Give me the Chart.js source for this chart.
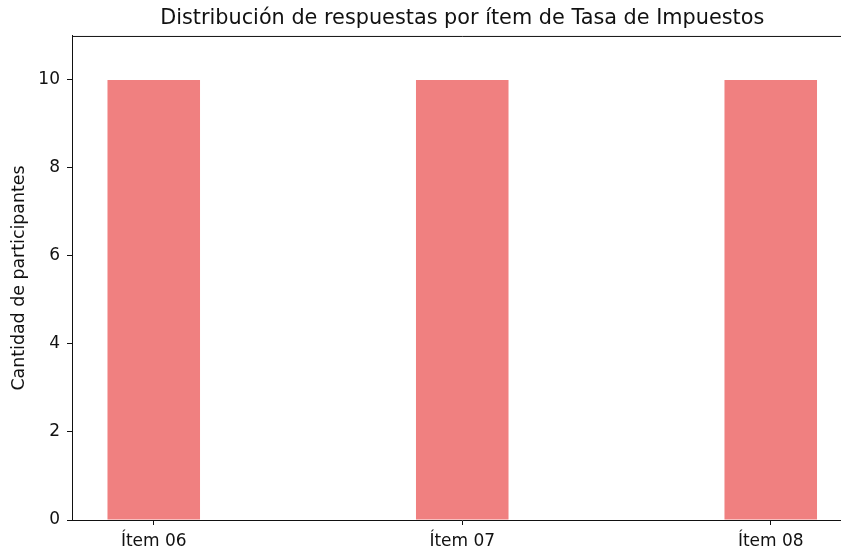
<!DOCTYPE html>
<html>
<head>
<meta charset="utf-8">
<script src="https://cdn.jsdelivr.net/npm/chart.js@4/dist/chart.umd.min.js"></script>
<style>
  html, body { margin: 0; padding: 0; background: #fff; overflow: hidden; }
  #wrap { width: 900px; height: 552px; }
</style>
</head>
<body>
<div id="wrap"><canvas id="chart" width="900" height="552"></canvas></div>
<script>
const categories = ['Ítem 06', 'Ítem 07', 'Ítem 08'];
const counts = [10, 10, 10];
const yTicks = [0, 2, 4, 6, 8, 10];

const titleText = 'Distribución de respuestas por ítem de Tasa de Impuestos';
const yLabel = 'Cantidad de participantes';
const barColor = '#F08080';
const axisColor = '#111';
const textColor = '#111';
const fontFamily = '"DejaVu Sans", sans-serif';

// marco superior (las espinas de matplotlib)
const frame = {
    id: 'frame',
    afterDraw(chart) {
        const { ctx, chartArea } = chart;
        ctx.save();
        ctx.strokeStyle = axisColor;
        ctx.lineWidth = 1;
        ctx.beginPath();
        ctx.moveTo(chartArea.left, chartArea.top + 0.5);
        ctx.lineTo(chartArea.right, chartArea.top + 0.5);
        ctx.stroke();
        ctx.restore();
    }
};

const ctx = document.getElementById('chart').getContext('2d');
new Chart(ctx, {
    type: 'bar',
    data: {
        datasets: [{
            data: counts.map((v, i) => ({ x: i, y: v })),
            backgroundColor: barColor,
            borderWidth: 0,
            barPercentage: 0.3,
            categoryPercentage: 1
        }]
    },
    options: {
        responsive: false,
        animation: false,
        layout: { padding: { left: 0, right: 47.5, top: 0, bottom: 0 } },
        plugins: {
            legend: { display: false },
            tooltip: { enabled: false },
            title: {
                display: true,
                fullSize: false,
                text: titleText,
                color: textColor,
                font: { family: fontFamily, size: 20.8, weight: 'normal' },
                padding: { top: 6, bottom: 5 }
            }
        },
        scales: {
            x: {
                type: 'linear',
                min: -0.265,
                max: 2.265,
                offset: false,
                afterBuildTicks: scale => {
                    scale.ticks = categories.map((c, i) => ({ value: i }));
                },
                afterFit: scale => { scale.height = 32; },
                ticks: {
                    callback: v => categories[v] ?? '',
                    color: textColor,
                    font: { family: fontFamily, size: 17 },
                    padding: 6,
                    maxRotation: 0,
                    autoSkip: false
                },
                grid: { offset: false, drawOnChartArea: false, drawTicks: true, tickLength: 5, color: axisColor },
                border: { color: axisColor, width: 1 }
            },
            y: {
                min: 0,
                max: 11,
                afterBuildTicks: scale => {
                    scale.ticks = yTicks.map(v => ({ value: v }));
                },
                afterFit: scale => { scale.width = 72; },
                ticks: {
                    color: textColor,
                    font: { family: fontFamily, size: 17 },
                    padding: 7
                },
                title: {
                    display: true,
                    text: yLabel,
                    color: textColor,
                    font: { family: fontFamily, size: 17.4 },
                    padding: { top: 9, bottom: 0 }
                },
                grid: { drawOnChartArea: false, drawTicks: true, tickLength: 5, color: axisColor },
                border: { color: axisColor, width: 1 }
            }
        }
    },
    plugins: [frame]
});
</script>
</body>
</html>
